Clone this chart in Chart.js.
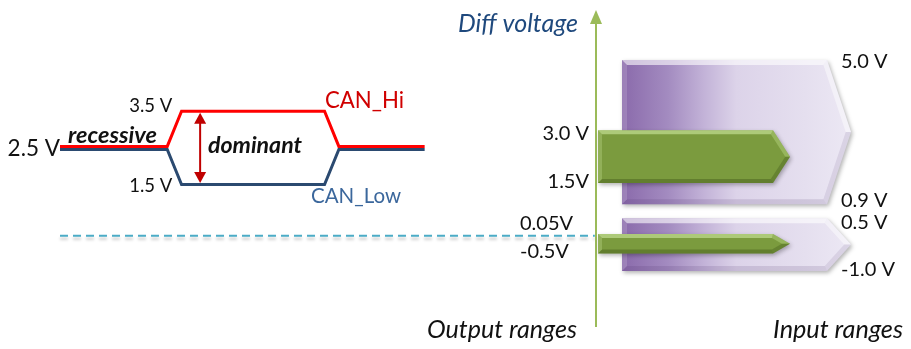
<!DOCTYPE html>
<html>
<head>
<meta charset="utf-8">
<script src="https://cdn.jsdelivr.net/npm/chart.js@4.4.1/dist/chart.umd.min.js"></script>
<style>
  html, body { margin: 0; padding: 0; background: #fff; }
  #wrap { width: 911px; height: 349px; position: relative; }
</style>
</head>
<body>
<div id="wrap"><canvas id="canDiagram"></canvas></div>
<script>
// bus levels over time (time in bit units, volts)
const waveTime = [0, 1.5, 1.7, 3.7, 3.9, 5.1];
const canHi = [2.5, 2.5, 3.5, 3.5, 2.5, 2.5];
const canLow = [2.5, 2.5, 1.5, 1.5, 2.5, 2.5];
const zeroTime = [0, 7.48];
const zeroVolt = [0, 0];

// differential voltage ranges, [low, high] in volts
const outputRanges = [[1.5, 3.0], [-0.5, 0.05]];
const inputRanges = [[0.9, 5.0], [-1.0, 0.5]];
const outputLabels = [['1.5V', '3.0 V'], ['-0.5V', '0.05V']];
const inputLabels = [['0.9 V', '5.0 V'], ['-1.0 V', '0.5 V']];

const FONT = 'Lato, "Open Sans", sans-serif';

const pts = (xs, ys) => xs.map((x, i) => ({ x: x, y: ys[i] }));

// shrink a convex polygon by d px (used for the bevel edges)
function insetPolygon(p, d) {
  const n = p.length, lines = [];
  for (let i = 0; i < n; i++) {
    const a = p[i], b = p[(i + 1) % n];
    const dx = b[0] - a[0], dy = b[1] - a[1], len = Math.hypot(dx, dy);
    lines.push({ px: a[0] - dy / len * d, py: a[1] + dx / len * d, dx: dx, dy: dy });
  }
  const out = [];
  for (let i = 0; i < n; i++) {
    const l1 = lines[(i - 1 + n) % n], l2 = lines[i];
    const det = l1.dx * l2.dy - l1.dy * l2.dx;
    const t = ((l2.px - l1.px) * l2.dy - (l2.py - l1.py) * l2.dx) / det;
    out.push([l1.px + l1.dx * t, l1.py + l1.dy * t]);
  }
  return out;
}

function polyPath(ctx, p) {
  ctx.beginPath();
  ctx.moveTo(p[0][0], p[0][1]);
  for (let i = 1; i < p.length; i++) ctx.lineTo(p[i][0], p[i][1]);
  ctx.closePath();
}

function drawRangeArrow(ctx, st, top, bot) {
  const mid = (top + bot) / 2;
  const outer = [[st.x0, top], [st.shoulder, top], [st.tip, mid], [st.shoulder, bot], [st.x0, bot]];
  ctx.save();
  ctx.shadowColor = 'rgba(0,0,0,0.3)';
  ctx.shadowBlur = 4;
  ctx.shadowOffsetX = 1.5;
  ctx.shadowOffsetY = 2;
  polyPath(ctx, outer);
  if (st.stops) {
    const g = ctx.createLinearGradient(st.x0, 0, st.tip, 0);
    st.stops.forEach(s => g.addColorStop(s[0], s[1]));
    ctx.fillStyle = g;
  } else {
    ctx.fillStyle = st.color;
  }
  ctx.fill();
  ctx.restore();

  // bevel: top, upper slant, lower slant, bottom, left
  const inner = insetPolygon(outer, st.bevel);
  for (let i = 0; i < 5; i++) {
    const j = (i + 1) % 5;
    polyPath(ctx, [outer[i], outer[j], inner[j], inner[i]]);
    ctx.fillStyle = st.shades[i];
    ctx.fill();
  }
}

function label(ctx, s, x, y, o) {
  ctx.save();
  let size = o.size || 20;
  ctx.font = (o.style || '') + ' ' + size + 'px ' + FONT;
  if (o.width) {
    size = size * o.width / ctx.measureText(s).width;
    ctx.font = (o.style || '') + ' ' + size.toFixed(2) + 'px ' + FONT;
  }
  ctx.fillStyle = o.color || '#111';
  ctx.textAlign = o.align || 'left';
  ctx.textBaseline = 'alphabetic';
  ctx.fillText(s, x, y);
  ctx.restore();
}

const diagramPlugin = {
  id: 'diagram',
  beforeDatasetDraw(chart, args) {
    const ds = chart.data.datasets[args.index];
    const ctx = chart.ctx;
    ctx.save();
    if (ds.shiftY) ctx.translate(0, ds.shiftY);
    if (ds.softShadow) {
      ctx.shadowColor = 'rgba(0,0,0,0.22)';
      ctx.shadowBlur = 3;
      ctx.shadowOffsetY = 3;
    }
  },
  afterDatasetDraw(chart) {
    chart.ctx.restore();
  },
  afterDatasetsDraw(chart, args, opts) {
    const ctx = chart.ctx;
    const xs = chart.scales.x, ys = chart.scales.y;

    // vertical diff-voltage axis with arrow head
    const ax = opts.axis;
    ctx.save();
    ctx.strokeStyle = '#9bbb59';
    ctx.fillStyle = '#9bbb59';
    ctx.lineWidth = 2;
    ctx.beginPath();
    ctx.moveTo(ax.x, ax.bottom);
    ctx.lineTo(ax.x, ax.top + 12);
    ctx.stroke();
    ctx.beginPath();
    ctx.moveTo(ax.x, ax.top);
    ctx.lineTo(ax.x - 6, ax.top + 14);
    ctx.lineTo(ax.x + 6, ax.top + 14);
    ctx.closePath();
    ctx.fill();
    ctx.restore();

    // input ranges (purple) then output ranges (green)
    inputRanges.forEach(r => {
      drawRangeArrow(ctx, opts.input, ys.getPixelForValue(r[1]), ys.getPixelForValue(r[0]));
    });
    outputRanges.forEach(r => {
      drawRangeArrow(ctx, opts.output, ys.getPixelForValue(r[1]), ys.getPixelForValue(r[0]));
    });

    // range labels
    outputRanges.forEach((r, i) => {
      const pos = opts.outputLabelPos[i];
      label(ctx, outputLabels[i][0], pos.x, ys.getPixelForValue(r[0]) + pos.low, { size: 20, align: pos.align });
      label(ctx, outputLabels[i][1], pos.x, ys.getPixelForValue(r[1]) + pos.high, { size: 20, align: pos.align });
    });
    inputRanges.forEach((r, i) => {
      const pos = opts.inputLabelPos[i];
      label(ctx, inputLabels[i][0], pos.x, ys.getPixelForValue(r[0]) + pos.low, { size: 20 });
      label(ctx, inputLabels[i][1], pos.x, ys.getPixelForValue(r[1]) + pos.high, { size: 20 });
    });

    // dominant double arrow between the two bus levels
    const hiV = Math.max(...canHi), loV = Math.min(...canLow), recV = canHi[0];
    const axp = xs.getPixelForValue(opts.dominantAt);
    const yTop = ys.getPixelForValue(hiV), yBot = ys.getPixelForValue(loV);
    ctx.save();
    ctx.strokeStyle = '#c00000';
    ctx.fillStyle = '#c00000';
    ctx.lineWidth = 2;
    ctx.beginPath();
    ctx.moveTo(axp, yTop + 8);
    ctx.lineTo(axp, yBot - 8);
    ctx.stroke();
    ctx.beginPath();
    ctx.moveTo(axp, yTop); ctx.lineTo(axp - 6, yTop + 11); ctx.lineTo(axp + 6, yTop + 11);
    ctx.closePath(); ctx.fill();
    ctx.beginPath();
    ctx.moveTo(axp, yBot); ctx.lineTo(axp - 6, yBot - 11); ctx.lineTo(axp + 6, yBot - 11);
    ctx.closePath(); ctx.fill();
    ctx.restore();

    // waveform annotations
    const x0 = xs.getPixelForValue(waveTime[0]);
    const xRise = xs.getPixelForValue(waveTime[1]);
    label(ctx, hiV.toFixed(1) + ' V', xRise + 5, yTop - 1, { size: 18.5, align: 'right' });
    label(ctx, loV.toFixed(1) + ' V', xRise + 5, yBot + 9, { size: 18.5, align: 'right' });
    label(ctx, recV.toFixed(1) + ' V', x0, ys.getPixelForValue(recV) + 8, { size: 22.5, align: 'right' });
    opts.texts.forEach(t => label(ctx, t.text, t.x, t.y, t));
  }
};

new Chart(document.getElementById('canDiagram'), {
  type: 'scatter',
  data: {
    datasets: [
      { label: 'CAN_Hi', data: pts(waveTime, canHi), showLine: true, borderColor: '#ff0000',
        borderWidth: 3, pointRadius: 0, shiftY: -1.5 },
      { label: 'CAN_Low', data: pts(waveTime, canLow), showLine: true, borderColor: '#2b4a70',
        borderWidth: 3, pointRadius: 0, shiftY: 1.5 },
      { label: '0 V', data: pts(zeroTime, zeroVolt), showLine: true, borderColor: '#4bacc6',
        borderWidth: 2, borderDash: [8, 5], pointRadius: 0, softShadow: true }
    ]
  },
  options: {
    responsive: true,
    maintainAspectRatio: false,
    animation: false,
    layout: { padding: 0 },
    scales: {
      x: { type: 'linear', display: false, min: -0.839, max: 11.902 },
      y: { type: 'linear', display: false, min: -3.219, max: 6.705 }
    },
    plugins: {
      legend: { display: false },
      tooltip: { enabled: false },
      diagram: {
        axis: { x: 596, top: 10, bottom: 327 },
        dominantAt: 1.96,
        input: {
          x0: 622, shoulder: 827, tip: 851, bevel: 5,
          stops: [[0, '#8a6aab'], [0.2, '#a38bc0'], [0.36, '#c3b3d8'], [0.5, '#dcd3e9'], [0.8, '#e5dfef'], [1, '#ece8f4']],
          shades: ['rgba(255,255,255,0.6)', 'rgba(255,255,255,0.45)', 'rgba(110,90,140,0.14)',
                   'rgba(70,45,100,0.14)', 'rgba(255,255,255,0.15)']
        },
        output: {
          x0: 598, shoulder: 773, tip: 790, bevel: 4,
          color: '#7b9b3e',
          shades: ['rgba(215,240,170,0.55)', 'rgba(200,230,150,0.35)', 'rgba(40,60,10,0.25)',
                   'rgba(40,60,10,0.3)', 'rgba(215,240,170,0.25)']
        },
        outputLabelPos: [
          { x: 589, align: 'right', low: 5, high: 10 },
          { x: 520, align: 'left', low: 5, high: -4 }
        ],
        inputLabelPos: [
          { x: 841, low: 3, high: 8 },
          { x: 841, low: 5, high: 11 }
        ],
        texts: [
          { text: 'recessive', x: 68, y: 143, style: 'italic bold', width: 89, size: 20 },
          { text: 'dominant', x: 208, y: 153, style: 'italic bold', width: 94, size: 20 },
          { text: 'CAN_Hi', x: 325, y: 108, width: 79, size: 20, color: '#d00000' },
          { text: 'CAN_Low', x: 311, y: 203, width: 90, size: 20, color: '#3b679c' },
          { text: 'Diff voltage', x: 578, y: 32, align: 'right', style: 'italic', width: 120, size: 22, color: '#1f497d' },
          { text: 'Output ranges', x: 427, y: 338, style: 'italic', width: 150, size: 22 },
          { text: 'Input ranges', x: 903, y: 338, align: 'right', style: 'italic', width: 130, size: 22 }
        ]
      }
    }
  },
  plugins: [diagramPlugin]
});
</script>
</body>
</html>
